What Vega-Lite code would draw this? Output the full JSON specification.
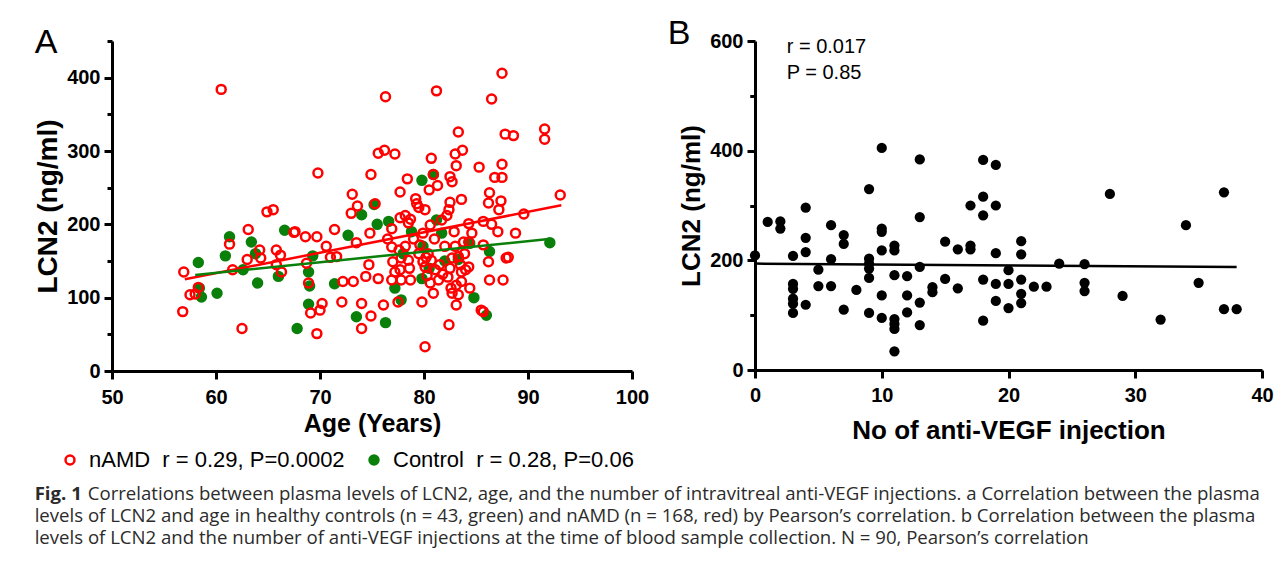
{
  "$schema": "https://vega.github.io/schema/vega-lite/v6.json",
  "background": "white",
  "padding": {"left": 34, "top": 17, "right": 5, "bottom": 5},
  "config": {
    "view": {"stroke": null},
    "axis": {
      "grid": false, "labelFlush": false,
      "domainColor": "black", "domainWidth": 3,
      "tickColor": "black", "tickWidth": 3, "tickSize": 8,
      "labelFont": "Liberation Sans", "labelFontSize": 20, "labelFontWeight": "bold", "labelColor": "black",
      "titleFont": "Liberation Sans", "titleFontSize": 25, "titleFontWeight": "bold", "titleColor": "black"
    }
  },
  "title": {
    "text": "Fig. 1",
    "subtitle": [
      "\u200b\u00a0\u00a0\u00a0\u00a0\u00a0\u00a0\u00a0\u00a0\u00a0\u00a0\u00a0Correlations between plasma levels of LCN2, age, and the number of intravitreal anti-VEGF injections. a Correlation between the plasma",
      "levels of LCN2 and age in healthy controls (n = 43, green) and nAMD (n = 168, red) by Pearson’s correlation. b Correlation between the plasma",
      "levels of LCN2 and the number of anti-VEGF injections at the time of blood sample collection. N = 90, Pearson’s correlation"
    ],
    "orient": "bottom", "anchor": "start", "frame": "bounds", "offset": 14,
    "font": "Open Sans", "fontSize": 18.6, "fontWeight": "bold", "color": "#2b2b2b", "lineHeight": 22,
    "subtitleFont": "Open Sans", "subtitleFontSize": 18.6, "subtitleFontWeight": "normal", "subtitleColor": "#2b2b2b", "subtitleLineHeight": 22,
    "subtitlePadding": -18.6
  },
  "datasets": {
    "age": [
      {"group":"Control","age":79.8,"lcn2":260},{"group":"Control","age":80.9,"lcn2":268},{"group":"Control","age":75.2,"lcn2":227},{"group":"Control","age":74,"lcn2":213},{"group":"Control","age":76.6,"lcn2":204},{"group":"Control","age":72.7,"lcn2":185},{"group":"Control","age":81.7,"lcn2":188},{"group":"Control","age":81.2,"lcn2":206},{"group":"Control","age":78.8,"lcn2":190},{"group":"Control","age":92.1,"lcn2":175},{"group":"Control","age":86.3,"lcn2":163},{"group":"Control","age":83.3,"lcn2":152},{"group":"Control","age":84.4,"lcn2":174},{"group":"Control","age":79.8,"lcn2":126},{"group":"Control","age":79.9,"lcn2":170},{"group":"Control","age":77.2,"lcn2":113},{"group":"Control","age":77.8,"lcn2":97},{"group":"Control","age":73.5,"lcn2":74},{"group":"Control","age":76.3,"lcn2":66},{"group":"Control","age":71.4,"lcn2":119},{"group":"Control","age":69,"lcn2":116},{"group":"Control","age":68.9,"lcn2":91},{"group":"Control","age":67.8,"lcn2":58},{"group":"Control","age":69.3,"lcn2":157},{"group":"Control","age":68.9,"lcn2":135},{"group":"Control","age":86,"lcn2":76},{"group":"Control","age":58.3,"lcn2":148},{"group":"Control","age":58.6,"lcn2":101},{"group":"Control","age":58.4,"lcn2":113},{"group":"Control","age":60.1,"lcn2":106},{"group":"Control","age":61.3,"lcn2":183},{"group":"Control","age":60.9,"lcn2":157},{"group":"Control","age":62.6,"lcn2":138},{"group":"Control","age":63.4,"lcn2":176},{"group":"Control","age":63.8,"lcn2":160},{"group":"Control","age":64,"lcn2":120},{"group":"Control","age":66,"lcn2":129},{"group":"Control","age":66.6,"lcn2":192},{"group":"Control","age":82,"lcn2":150},{"group":"Control","age":80.5,"lcn2":140},{"group":"Control","age":75.5,"lcn2":200},{"group":"Control","age":84.8,"lcn2":100},{"group":"Control","age":78,"lcn2":160},
      {"group":"nAMD","age":87.5,"lcn2":406},{"group":"nAMD","age":81.2,"lcn2":382},{"group":"nAMD","age":76.3,"lcn2":374},{"group":"nAMD","age":86.5,"lcn2":371},{"group":"nAMD","age":83.3,"lcn2":326},{"group":"nAMD","age":87.8,"lcn2":323},{"group":"nAMD","age":88.6,"lcn2":321},{"group":"nAMD","age":91.6,"lcn2":330},{"group":"nAMD","age":91.6,"lcn2":316},{"group":"nAMD","age":75.6,"lcn2":297},
      {"group":"nAMD","age":76.2,"lcn2":301},{"group":"nAMD","age":77.2,"lcn2":296},{"group":"nAMD","age":80.7,"lcn2":290},{"group":"nAMD","age":83,"lcn2":296},{"group":"nAMD","age":83.7,"lcn2":301},{"group":"nAMD","age":83.1,"lcn2":280},{"group":"nAMD","age":69.8,"lcn2":270},{"group":"nAMD","age":74.9,"lcn2":268},{"group":"nAMD","age":85.3,"lcn2":278},{"group":"nAMD","age":87.5,"lcn2":282},
      {"group":"nAMD","age":86.8,"lcn2":264},{"group":"nAMD","age":87.5,"lcn2":264},{"group":"nAMD","age":78.4,"lcn2":262},{"group":"nAMD","age":80.9,"lcn2":268},{"group":"nAMD","age":82.5,"lcn2":265},{"group":"nAMD","age":82.7,"lcn2":258},{"group":"nAMD","age":81.3,"lcn2":253},{"group":"nAMD","age":80.5,"lcn2":247},{"group":"nAMD","age":77.7,"lcn2":244},{"group":"nAMD","age":73.1,"lcn2":241},
      {"group":"nAMD","age":79.2,"lcn2":235},{"group":"nAMD","age":83.6,"lcn2":234},{"group":"nAMD","age":82.5,"lcn2":230},{"group":"nAMD","age":86.3,"lcn2":243},{"group":"nAMD","age":86.2,"lcn2":229},{"group":"nAMD","age":87.4,"lcn2":232},{"group":"nAMD","age":87.2,"lcn2":220},{"group":"nAMD","age":93.1,"lcn2":240},{"group":"nAMD","age":73.6,"lcn2":225},{"group":"nAMD","age":73,"lcn2":215},
      {"group":"nAMD","age":75.3,"lcn2":228},{"group":"nAMD","age":79.3,"lcn2":228},{"group":"nAMD","age":79.5,"lcn2":223},{"group":"nAMD","age":80.1,"lcn2":220},{"group":"nAMD","age":78.2,"lcn2":212},{"group":"nAMD","age":77.7,"lcn2":209},{"group":"nAMD","age":78.7,"lcn2":207},{"group":"nAMD","age":78.5,"lcn2":202},{"group":"nAMD","age":76.9,"lcn2":194},{"group":"nAMD","age":80.6,"lcn2":199},
      {"group":"nAMD","age":81.7,"lcn2":206},{"group":"nAMD","age":82.2,"lcn2":212},{"group":"nAMD","age":82.4,"lcn2":220},{"group":"nAMD","age":84.3,"lcn2":201},{"group":"nAMD","age":85.7,"lcn2":204},{"group":"nAMD","age":89.6,"lcn2":214},{"group":"nAMD","age":87.1,"lcn2":190},{"group":"nAMD","age":88.8,"lcn2":188},{"group":"nAMD","age":71.4,"lcn2":193},{"group":"nAMD","age":74.8,"lcn2":188},
      {"group":"nAMD","age":79.9,"lcn2":188},{"group":"nAMD","age":67.6,"lcn2":190},{"group":"nAMD","age":68.6,"lcn2":183},{"group":"nAMD","age":69.7,"lcn2":183},{"group":"nAMD","age":70.6,"lcn2":170},{"group":"nAMD","age":71,"lcn2":155},{"group":"nAMD","age":71.6,"lcn2":156},{"group":"nAMD","age":73.5,"lcn2":175},{"group":"nAMD","age":68.7,"lcn2":147},{"group":"nAMD","age":68.9,"lcn2":120},
      {"group":"nAMD","age":69.1,"lcn2":79},{"group":"nAMD","age":70.2,"lcn2":92},{"group":"nAMD","age":70,"lcn2":83},{"group":"nAMD","age":69.7,"lcn2":51},{"group":"nAMD","age":72.1,"lcn2":94},{"group":"nAMD","age":72.2,"lcn2":122},{"group":"nAMD","age":73.2,"lcn2":122},{"group":"nAMD","age":74.4,"lcn2":129},{"group":"nAMD","age":74.7,"lcn2":145},{"group":"nAMD","age":75.6,"lcn2":126},
      {"group":"nAMD","age":74,"lcn2":92},{"group":"nAMD","age":74.9,"lcn2":75},{"group":"nAMD","age":74,"lcn2":58},{"group":"nAMD","age":76.1,"lcn2":90},{"group":"nAMD","age":76.9,"lcn2":124},{"group":"nAMD","age":77.2,"lcn2":135},{"group":"nAMD","age":77,"lcn2":149},{"group":"nAMD","age":76.9,"lcn2":169},{"group":"nAMD","age":77.6,"lcn2":165},{"group":"nAMD","age":77.8,"lcn2":154},
      {"group":"nAMD","age":78.5,"lcn2":151},{"group":"nAMD","age":77.7,"lcn2":138},{"group":"nAMD","age":77.8,"lcn2":124},{"group":"nAMD","age":78.7,"lcn2":124},{"group":"nAMD","age":77.5,"lcn2":94},{"group":"nAMD","age":79.8,"lcn2":94},{"group":"nAMD","age":79.9,"lcn2":149},{"group":"nAMD","age":80.1,"lcn2":142},{"group":"nAMD","age":80.4,"lcn2":160},{"group":"nAMD","age":80.7,"lcn2":151},
      {"group":"nAMD","age":81.1,"lcn2":138},{"group":"nAMD","age":81.4,"lcn2":124},{"group":"nAMD","age":80.6,"lcn2":120},{"group":"nAMD","age":80.9,"lcn2":106},{"group":"nAMD","age":80.1,"lcn2":33},{"group":"nAMD","age":82.4,"lcn2":63},{"group":"nAMD","age":82.6,"lcn2":113},{"group":"nAMD","age":82.7,"lcn2":106},{"group":"nAMD","age":82.5,"lcn2":140},{"group":"nAMD","age":82.7,"lcn2":154},
      {"group":"nAMD","age":83,"lcn2":170},{"group":"nAMD","age":83.3,"lcn2":156},{"group":"nAMD","age":83.5,"lcn2":145},{"group":"nAMD","age":83.6,"lcn2":135},{"group":"nAMD","age":83.6,"lcn2":122},{"group":"nAMD","age":83.1,"lcn2":117},{"group":"nAMD","age":83.3,"lcn2":104},{"group":"nAMD","age":83.1,"lcn2":90},{"group":"nAMD","age":84,"lcn2":138},{"group":"nAMD","age":84.3,"lcn2":142},
      {"group":"nAMD","age":84.4,"lcn2":113},{"group":"nAMD","age":83.8,"lcn2":176},{"group":"nAMD","age":84.3,"lcn2":176},{"group":"nAMD","age":85.7,"lcn2":172},{"group":"nAMD","age":86.2,"lcn2":149},{"group":"nAMD","age":86.3,"lcn2":124},{"group":"nAMD","age":87.6,"lcn2":124},{"group":"nAMD","age":87.9,"lcn2":154},{"group":"nAMD","age":88.1,"lcn2":155},{"group":"nAMD","age":85.5,"lcn2":83},
      {"group":"nAMD","age":85.7,"lcn2":81},{"group":"nAMD","age":56.9,"lcn2":135},{"group":"nAMD","age":56.8,"lcn2":81},{"group":"nAMD","age":57.5,"lcn2":104},{"group":"nAMD","age":58,"lcn2":105},{"group":"nAMD","age":58.3,"lcn2":114},{"group":"nAMD","age":61.6,"lcn2":138},{"group":"nAMD","age":61.3,"lcn2":173},{"group":"nAMD","age":62.5,"lcn2":58},{"group":"nAMD","age":63.1,"lcn2":193},
      {"group":"nAMD","age":63,"lcn2":152},{"group":"nAMD","age":64.2,"lcn2":165},{"group":"nAMD","age":64.3,"lcn2":154},{"group":"nAMD","age":64.9,"lcn2":217},{"group":"nAMD","age":65.5,"lcn2":220},{"group":"nAMD","age":65.8,"lcn2":165},{"group":"nAMD","age":66.2,"lcn2":158},{"group":"nAMD","age":65.8,"lcn2":145},{"group":"nAMD","age":66.3,"lcn2":135},{"group":"nAMD","age":67.5,"lcn2":189},
      {"group":"nAMD","age":60.5,"lcn2":384},{"group":"nAMD","age":80.2,"lcn2":155},{"group":"nAMD","age":81.5,"lcn2":145},{"group":"nAMD","age":79.5,"lcn2":160},{"group":"nAMD","age":81.8,"lcn2":132},{"group":"nAMD","age":82.3,"lcn2":128},{"group":"nAMD","age":78.2,"lcn2":170},{"group":"nAMD","age":79,"lcn2":180},{"group":"nAMD","age":76.5,"lcn2":180},{"group":"nAMD","age":82,"lcn2":170},
      {"group":"nAMD","age":79.6,"lcn2":172},{"group":"nAMD","age":83.9,"lcn2":160},{"group":"nAMD","age":80.3,"lcn2":130},{"group":"nAMD","age":81,"lcn2":180},{"group":"nAMD","age":78.6,"lcn2":140},{"group":"nAMD","age":82.9,"lcn2":190},{"group":"nAMD","age":84.6,"lcn2":188},{"group":"nAMD","age":86.5,"lcn2":200}
    ],
    "ageFit": [
      {"group":"nAMD","age":57,"lcn2":125},{"group":"nAMD","age":93.2,"lcn2":226},
      {"group":"Control","age":58,"lcn2":131},{"group":"Control","age":92,"lcn2":180}
    ],
    "inj": [
      {"injections":0,"lcn2":209},{"injections":1,"lcn2":270},{"injections":2,"lcn2":271},{"injections":2,"lcn2":258},
      {"injections":3,"lcn2":208},{"injections":3,"lcn2":157},{"injections":3,"lcn2":148},{"injections":3,"lcn2":130},{"injections":3,"lcn2":121},{"injections":3,"lcn2":104},
      {"injections":4,"lcn2":296},{"injections":4,"lcn2":241},{"injections":4,"lcn2":215},{"injections":4,"lcn2":119},
      {"injections":5,"lcn2":183},{"injections":5,"lcn2":153},
      {"injections":6,"lcn2":264},{"injections":6,"lcn2":202},{"injections":6,"lcn2":153},
      {"injections":7,"lcn2":246},{"injections":7,"lcn2":230},{"injections":7,"lcn2":110},
      {"injections":8,"lcn2":146},
      {"injections":9,"lcn2":330},{"injections":9,"lcn2":203},{"injections":9,"lcn2":194},{"injections":9,"lcn2":185},{"injections":9,"lcn2":168},{"injections":9,"lcn2":104},
      {"injections":10,"lcn2":405},{"injections":10,"lcn2":258},{"injections":10,"lcn2":252},{"injections":10,"lcn2":218},{"injections":10,"lcn2":136},{"injections":10,"lcn2":95},
      {"injections":11,"lcn2":227},{"injections":11,"lcn2":218},{"injections":11,"lcn2":173},{"injections":11,"lcn2":93},{"injections":11,"lcn2":84},{"injections":11,"lcn2":75},{"injections":11,"lcn2":34},
      {"injections":12,"lcn2":171},{"injections":12,"lcn2":136},{"injections":12,"lcn2":105},
      {"injections":13,"lcn2":384},{"injections":13,"lcn2":279},{"injections":13,"lcn2":188},{"injections":13,"lcn2":123},{"injections":13,"lcn2":82},
      {"injections":14,"lcn2":151},{"injections":14,"lcn2":142},
      {"injections":15,"lcn2":234},{"injections":15,"lcn2":166},
      {"injections":16,"lcn2":220},{"injections":16,"lcn2":149},
      {"injections":17,"lcn2":300},{"injections":17,"lcn2":227},{"injections":17,"lcn2":220},
      {"injections":18,"lcn2":383},{"injections":18,"lcn2":316},{"injections":18,"lcn2":282},{"injections":18,"lcn2":165},{"injections":18,"lcn2":90},
      {"injections":19,"lcn2":374},{"injections":19,"lcn2":300},{"injections":19,"lcn2":213},{"injections":19,"lcn2":157},{"injections":19,"lcn2":126},
      {"injections":20,"lcn2":182},{"injections":20,"lcn2":157},{"injections":20,"lcn2":113},
      {"injections":21,"lcn2":235},{"injections":21,"lcn2":211},{"injections":21,"lcn2":165},{"injections":21,"lcn2":139},{"injections":21,"lcn2":122},
      {"injections":22,"lcn2":152},{"injections":23,"lcn2":152},{"injections":24,"lcn2":194},
      {"injections":26,"lcn2":193},{"injections":26,"lcn2":159},{"injections":26,"lcn2":144},
      {"injections":28,"lcn2":321},{"injections":29,"lcn2":135},{"injections":32,"lcn2":92},{"injections":34,"lcn2":264},{"injections":35,"lcn2":159},
      {"injections":37,"lcn2":324},{"injections":37,"lcn2":111},{"injections":38,"lcn2":111}
    ],
    "injFit": [{"injections":0,"lcn2":194},{"injections":38,"lcn2":188}]
  },
  "spacing": 18,
  "resolve": {"legend": {"stroke": "independent", "fill": "independent"}},
  "hconcat": [
    {
      "width": 520, "height": 330,
      "title": {"text": "A", "anchor": "start", "frame": "bounds", "font": "Liberation Sans", "fontSize": 34, "fontWeight": "normal", "color": "black", "offset": -20},
      "resolve": {"axis": {"y": "independent"}},
      "layer": [
        {
          "data": {"name": "age"},
          "mark": {"type": "point", "shape": "circle", "size": 80, "strokeWidth": 2.5, "opacity": 1, "fillOpacity": 1},
          "encoding": {
            "x": {"field": "age", "type": "quantitative", "scale": {"domain": [50, 100], "nice": false, "zero": false},
                  "axis": {"values": [50, 60, 70, 80, 90, 100], "title": "Age (Years)", "labelFontWeight": "bold", "labelFlush": false, "labelPadding": 8, "titlePadding": 4}},
            "y": {"field": "lcn2", "type": "quantitative", "scale": {"domain": [0, 450], "nice": false},
                  "axis": {"values": [0, 100, 200, 300, 400], "title": "LCN2 (ng/ml)", "titleFontSize": 28, "labelPadding": 4, "titlePadding": 4}},
            "stroke": {"field": "group", "type": "nominal", "scale": {"domain": ["nAMD", "Control"], "range": ["#ff0000", "#0a800a"]},
                       "legend": {"orient": "none", "legendX": -53, "legendY": 408, "direction": "horizontal", "title": null,
                                  "labelFont": "Liberation Sans", "labelFontSize": 22, "labelColor": "black", "labelLimit": 500,
                                  "symbolType": "circle", "symbolSize": 80, "symbolStrokeWidth": 2.5, "labelOffset": 8, "columnPadding": 18,
                                  "labelExpr": "datum.label == 'nAMD' ? 'nAMD\u00a0\u00a0r = 0.29, P=0.0002' : 'Control\u00a0\u00a0r = 0.28, P=0.06'"}},
            "fill": {"field": "group", "type": "nominal", "scale": {"domain": ["nAMD", "Control"], "range": ["transparent", "#0a800a"]},
                     "legend": {"orient": "none", "legendX": -53, "legendY": 408, "direction": "horizontal", "title": null,
                                "labelFont": "Liberation Sans", "labelFontSize": 22, "labelColor": "black", "labelLimit": 500,
                                "symbolType": "circle", "symbolSize": 80, "symbolStrokeWidth": 2.5, "labelOffset": 8, "columnPadding": 18,
                                "labelExpr": "datum.label == 'nAMD' ? 'nAMD\u00a0\u00a0r = 0.29, P=0.0002' : 'Control\u00a0\u00a0r = 0.28, P=0.06'"}}
          }
        },
        {
          "data": {"name": "ageFit"},
          "mark": {"type": "line", "strokeWidth": 2.5},
          "encoding": {
            "x": {"field": "age", "type": "quantitative"},
            "y": {"field": "lcn2", "type": "quantitative",
                  "axis": {"orient": "left", "values": [50, 150, 250, 350, 450], "labels": false, "domain": false, "tickSize": 5, "title": null}},
            "stroke": {"field": "group", "type": "nominal", "legend": null},
            "detail": {"field": "group"}
          }
        }
      ]
    },
    {
      "width": 507, "height": 329,
      "title": {"text": "B", "anchor": "start", "frame": "bounds", "font": "Liberation Sans", "fontSize": 34, "fontWeight": "normal", "color": "black", "offset": -20, "dx": -11},
      "resolve": {"axis": {"y": "independent"}},
      "layer": [
        {
          "data": {"name": "inj"},
          "mark": {"type": "point", "shape": "circle", "size": 105, "filled": true, "color": "black", "opacity": 1},
          "encoding": {
            "x": {"field": "injections", "type": "quantitative", "scale": {"domain": [0, 40], "nice": false},
                  "axis": {"values": [0, 10, 20, 30, 40], "title": "No of anti-VEGF injection", "titleFontSize": 26, "labelFontWeight": "bold", "labelFlush": false, "labelPadding": 7, "titlePadding": 12}},
            "y": {"field": "lcn2", "type": "quantitative", "scale": {"domain": [0, 600], "nice": false},
                  "axis": {"values": [0, 200, 400, 600], "title": "LCN2 (ng/ml)", "titleFontSize": 26, "labelPadding": 4, "titlePadding": 5}}
          }
        },
        {
          "data": {"name": "injFit"},
          "mark": {"type": "line", "strokeWidth": 2.5, "color": "black"},
          "encoding": {
            "x": {"field": "injections", "type": "quantitative"},
            "y": {"field": "lcn2", "type": "quantitative",
                  "axis": {"orient": "left", "values": [100, 300, 500], "labels": false, "domain": false, "tickSize": 5, "title": null}}
          }
        },
        {
          "data": {"values": [{}]},
          "mark": {"type": "text", "text": ["r = 0.017", "P = 0.85"], "align": "left", "baseline": "alphabetic", "font": "Liberation Sans", "fontSize": 20, "lineHeight": 26, "color": "black"},
          "encoding": {
            "x": {"datum": 2.5, "type": "quantitative",
                  "axis": {"values": [0, 10, 20, 30, 40], "title": "No of anti-VEGF injection", "titleFontSize": 26, "labelFontWeight": "bold", "labelFlush": false, "labelPadding": 7, "titlePadding": 12}},
            "y": {"datum": 578, "type": "quantitative",
                  "axis": {"orient": "left", "values": [100, 300, 500], "labels": false, "domain": false, "tickSize": 5, "title": null}}
          }
        }
      ]
    }
  ]
}
